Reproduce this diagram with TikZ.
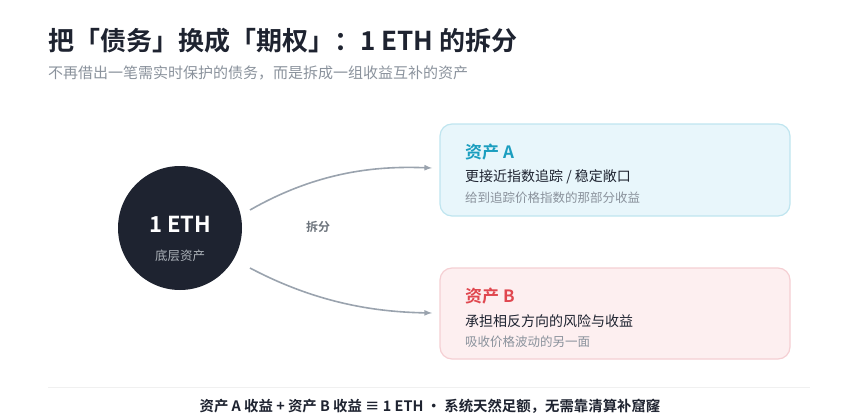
\documentclass[tikz,border=0pt]{standalone}
\usepackage{fontspec}
\setmainfont{Noto Sans CJK SC}[BoldFont={Noto Sans CJK SC Bold}]
\usepackage{tikz}
\usetikzlibrary{positioning}
\definecolor{ink}{HTML}{1E2330}
\definecolor{muted}{HTML}{8A929C}
\definecolor{arrowgray}{HTML}{9AA3AE}
\definecolor{afill}{HTML}{E8F6FB}
\definecolor{aline}{HTML}{BFE5EF}
\definecolor{atext}{HTML}{1B9EBF}
\definecolor{bfill}{HTML}{FDEFF0}
\definecolor{bline}{HTML}{F5CFD3}
\definecolor{btext}{HTML}{E0474F}
\begin{document}
\begin{tikzpicture}[x=1pt,y=-1pt,
    txt/.style={anchor=west,inner sep=0pt},
    card/.style={draw,line width=1.2pt,rounded corners=12pt},
    flow/.style={draw=arrowgray,line width=1.6pt,-latex}]
            \useasboundingbox (0,0) rectangle (860,420);
            \node[txt,font=\bfseries\fontsize{26}{30}\selectfont,text=ink] (title) at (48,41) {把「债务」换成「期权」：1 ETH 的拆分};
            \node[txt,font=\fontsize{15}{18}\selectfont,text=muted] (sub) at (48,73) {不再借出一笔需实时保护的债务，而是拆成一组收益互补的资产};
            \node[circle,fill=ink,minimum size=124pt] (eth) at (180,228) {};
            \node[font=\bfseries\fontsize{22}{26}\selectfont,text=white] (ethlab) at (180,224) {1 ETH};
            \node[font=\fontsize{12.5}{15}\selectfont,text=muted!70!white] (ethsub) at (180,256) {底层资产};
            \draw[card,draw=aline,fill=afill] (440,124) rectangle (790,216);
            \draw[card,draw=bline,fill=bfill] (440,268) rectangle (790,359);
            \coordinate (ina) at (432,168);
            \coordinate (inb) at (432,313);
            \coordinate (outa) at (250,210);
            \coordinate (outb) at (250,268);
            \draw[flow] (outa) .. controls (320,170) and (380,166) .. (ina);
            \draw[flow] (outb) .. controls (320,305) and (380,312) .. (inb);
            \node[font=\bfseries\fontsize{12}{14}\selectfont,text=muted!80!black] (split) at (318,227) {拆分};
            \node[txt,font=\bfseries\fontsize{17}{20}\selectfont,text=atext] (atitle) at (465,152) {资产 A};
            \node[txt,font=\fontsize{14}{16}\selectfont,text=ink] (aline1) at (465,177) {更接近指数追踪 / 稳定敞口};
            \node[txt,font=\fontsize{12.5}{14}\selectfont,text=muted] (aline2) at (465,198) {给到追踪价格指数的那部分收益};
            \node[txt,font=\bfseries\fontsize{17}{20}\selectfont,text=btext] (btitle) at (465,296) {资产 B};
            \node[txt,font=\fontsize{14}{16}\selectfont,text=ink] (bline1) at (465,321) {承担相反方向的风险与收益};
            \node[txt,font=\fontsize{12.5}{14}\selectfont,text=muted] (bline2) at (465,342) {吸收价格波动的另一面};
            \draw[gray!12,line width=1pt] (48,387) -- (810,387);
            \node[font=\bfseries\fontsize{14.4}{16}\selectfont,text=ink] (foot) at (430,406) {资产 A 收益 + 资产 B 收益 ≡ 1 ETH • 系统天然足额，无需靠清算补窟窿};
        \end{tikzpicture}
\end{document}
